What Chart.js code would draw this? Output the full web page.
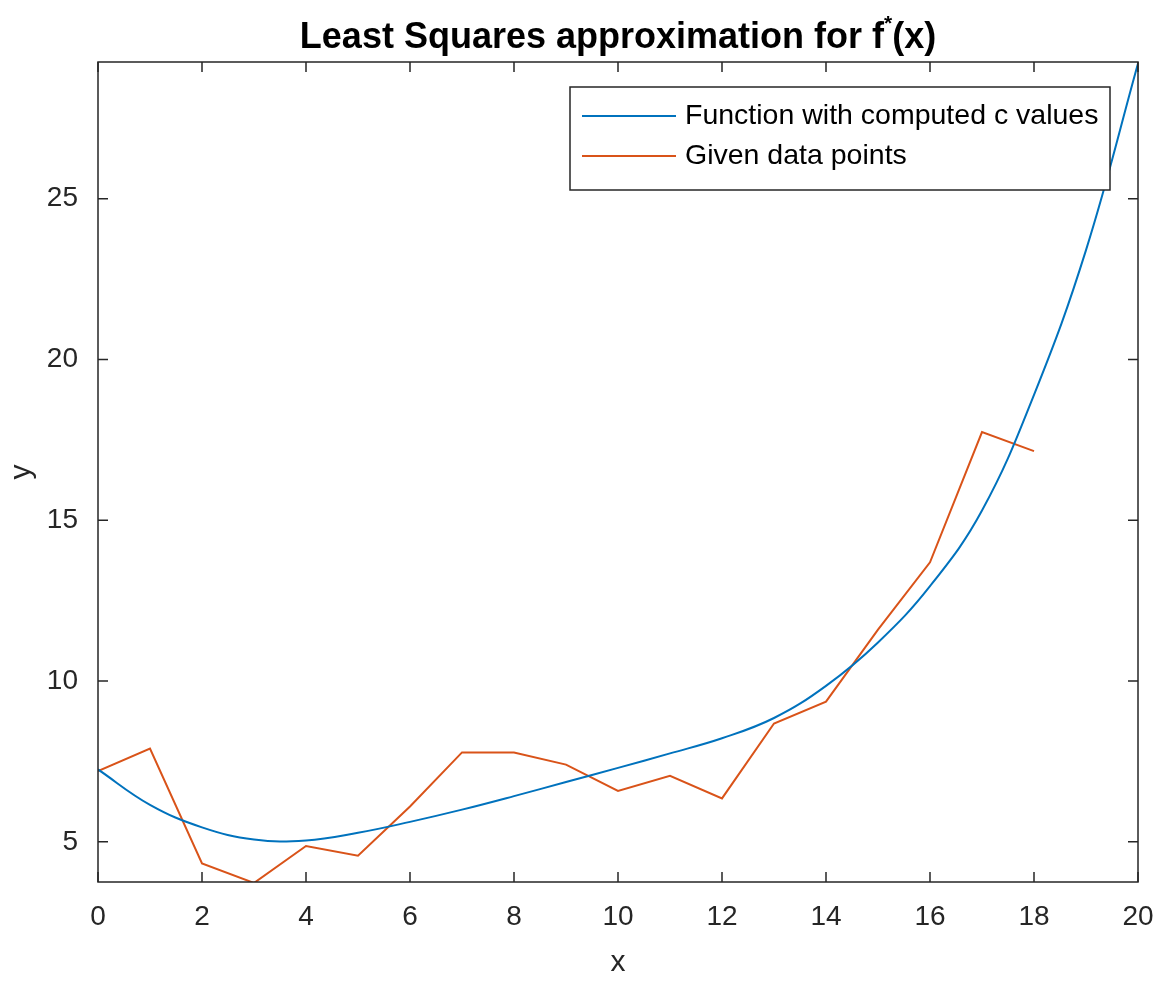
<!DOCTYPE html>
<html>
<head>
<meta charset="utf-8">
<script src="https://cdn.jsdelivr.net/npm/chart.js@4"></script>
<style>
  html, body { margin: 0; padding: 0; background: #fff; }
  #wrap { width: 1166px; height: 981px; }
</style>
</head>
<body>
<div id="wrap"><canvas id="lsChart" width="1166" height="981"></canvas></div>
<script>
// fitted curve
const fitX = [0, 1, 2, 3, 4, 5, 6, 7, 8, 9, 10, 11, 12, 13, 14, 15, 16, 17, 18, 19, 20];
const fitY = [7.25, 6.15, 5.45, 5.07, 5.04, 5.28, 5.62, 6.0, 6.42, 6.86, 7.3, 7.75, 8.22, 8.85, 9.85, 11.2, 12.95, 15.3, 18.9, 23.4, 29.2];

// given data points
const dataX = [0, 1, 2, 3, 4, 5, 6, 7, 8, 9, 10, 11, 12, 13, 14, 15, 16, 17, 18];
const dataY = [7.2, 7.9, 4.33, 3.72, 4.87, 4.57, 6.1, 7.78, 7.78, 7.4, 6.58, 7.05, 6.35, 8.68, 9.36, 11.6, 13.69, 17.74, 17.15];

const xTicks = [0, 2, 4, 6, 8, 10, 12, 14, 16, 18, 20];
const yTicks = [5, 10, 15, 20, 25];

const blue = '#0072BD';
const orange = '#D95319';
const axisColor = '#262626';
const fontFamily = '"Liberation Sans", Arial, Helvetica, sans-serif';

const toPoints = (xs, ys) => xs.map((x, i) => ({ x: x, y: ys[i] }));

// box around the axes, ticks pointing inward, title and legend
const matlabLook = {
    id: 'matlabLook',
    afterDraw(chart) {
        const c = chart.ctx;
        const a = chart.chartArea;
        const xs = chart.scales.x;
        const ys = chart.scales.y;
        const tick = 10;

        c.save();
        c.strokeStyle = axisColor;
        c.lineWidth = 1.5;
        c.strokeRect(a.left, a.top, a.right - a.left, a.bottom - a.top);

        c.beginPath();
        xTicks.forEach(v => {
            const px = xs.getPixelForValue(v);
            c.moveTo(px, a.bottom); c.lineTo(px, a.bottom - tick);
            c.moveTo(px, a.top); c.lineTo(px, a.top + tick);
        });
        yTicks.forEach(v => {
            const py = ys.getPixelForValue(v);
            c.moveTo(a.left, py); c.lineTo(a.left + tick, py);
            c.moveTo(a.right, py); c.lineTo(a.right - tick, py);
        });
        c.stroke();

        // title with superscript star
        c.fillStyle = '#000';
        c.textBaseline = 'alphabetic';
        const main = 'Least Squares approximation for f';
        const tail = '(x)';
        const big = 'bold 36px ' + fontFamily;
        const small = 'bold 21px ' + fontFamily;
        c.font = big;
        const wMain = c.measureText(main).width;
        const wTail = c.measureText(tail).width;
        c.font = small;
        const wStar = c.measureText('*').width;
        const total = wMain + wStar + wTail;
        const tx = (a.left + a.right) / 2 - total / 2;
        const ty = 48;
        c.textAlign = 'left';
        c.font = big;
        c.fillText(main, tx, ty);
        c.font = small;
        c.fillText('*', tx + wMain, ty - 18);
        c.font = big;
        c.fillText(tail, tx + wMain + wStar, ty);

        // legend
        const lx = 570, ly = 87, lw = 540, lh = 103;
        c.fillStyle = '#fff';
        c.fillRect(lx, ly, lw, lh);
        c.strokeStyle = axisColor;
        c.lineWidth = 1.5;
        c.strokeRect(lx, ly, lw, lh);
        c.font = '28.5px ' + fontFamily;
        c.textBaseline = 'middle';
        chart.data.datasets.forEach((ds, i) => {
            const rowY = ly + 29 + i * 40;
            c.strokeStyle = ds.borderColor;
            c.lineWidth = 2;
            c.beginPath();
            c.moveTo(lx + 12, rowY);
            c.lineTo(lx + 106, rowY);
            c.stroke();
            c.fillStyle = '#000';
            c.fillText(ds.label, lx + 115, rowY);
        });
        c.restore();
    }
};

new Chart(document.getElementById('lsChart'), {
    type: 'line',
    data: {
        datasets: [{
            label: 'Function with computed c values',
            data: toPoints(fitX, fitY),
            borderColor: blue,
            borderWidth: 2,
            pointRadius: 0,
            tension: 0.4
        }, {
            label: 'Given data points',
            data: toPoints(dataX, dataY),
            borderColor: orange,
            borderWidth: 2,
            pointRadius: 0,
            tension: 0
        }]
    },
    options: {
        responsive: false,
        animation: false,
        devicePixelRatio: 1,
        layout: { padding: { top: 62, right: 28, left: 0, bottom: 0 } },
        plugins: {
            legend: { display: false },
            title: { display: false },
            tooltip: { enabled: false }
        },
        scales: {
            x: {
                type: 'linear',
                min: 0,
                max: 20,
                afterBuildTicks: scale => { scale.ticks = xTicks.map(v => ({ value: v })); },
                afterFit: scale => { scale.height = 99; },
                grid: { display: false },
                border: { display: false },
                ticks: { color: axisColor, padding: 10, maxRotation: 0, font: { family: fontFamily, size: 28 } },
                title: {
                    display: true,
                    text: 'x',
                    color: axisColor,
                    padding: { top: 0, bottom: 0 },
                    font: { family: fontFamily, size: 30 }
                }
            },
            y: {
                type: 'linear',
                min: 3.75,
                max: 29.25,
                afterBuildTicks: scale => { scale.ticks = yTicks.map(v => ({ value: v })); },
                afterFit: scale => { scale.width = 98; },
                grid: { display: false },
                border: { display: false },
                ticks: { color: axisColor, padding: 12, font: { family: fontFamily, size: 28 } },
                title: {
                    display: true,
                    text: 'y',
                    color: axisColor,
                    padding: { top: 4, bottom: 0 },
                    font: { family: fontFamily, size: 30 }
                }
            }
        }
    },
    plugins: [matlabLook]
});
</script>
</body>
</html>
